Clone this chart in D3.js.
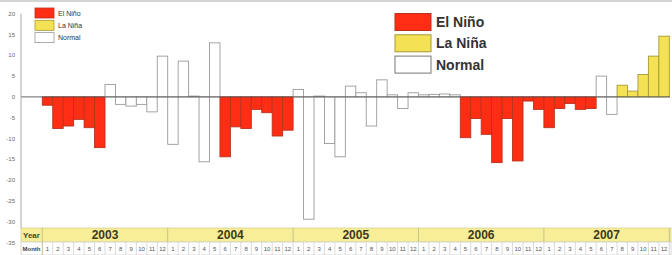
<!DOCTYPE html>
<html>
<head>
<meta charset="utf-8">
<script src="https://cdn.jsdelivr.net/npm/d3@7"></script>
<style>
  body { margin: 0; background: #fff; }
  svg { display: block; font-family: "Liberation Sans", Arial, sans-serif; }
</style>
</head>
<body>
<script>
// Data
const years = ['2003', '2004', '2005', '2006', '2007']
const months = ['1', '2', '3', '4', '5', '6', '7', '8', '9', '10', '11', '12']

// monthly values, one list per year
const values2003 = [-2.0, -7.6, -7.0, -5.4, -7.4, -12.2, 3.0, -1.8, -2.2, -1.8, -3.6, 9.8]
const values2004 = [-11.4, 8.6, 0.2, -15.6, 13.0, -14.4, -7.2, -7.6, -3.0, -3.8, -9.4, -8.0]
const values2005 = [1.8, -29.4, 0.2, -11.2, -14.4, 2.6, 1.0, -7.0, 4.1, 0.5, -2.8, 1.0]
const values2006 = [0.5, 0.6, 0.7, 0.5, -9.8, -5.2, -9.0, -15.8, -5.2, -15.4, -1.0, -3.0]
const values2007 = [-7.4, -2.8, -1.6, -3.0, -2.8, 5.0, -4.2, 2.8, 1.4, 5.4, 9.8, 14.6]

// phase per month: E = El Niño, L = La Niña, N = Normal
const phase2003 = ['E', 'E', 'E', 'E', 'E', 'E', 'N', 'N', 'N', 'N', 'N', 'N']
const phase2004 = ['N', 'N', 'N', 'N', 'N', 'E', 'E', 'E', 'E', 'E', 'E', 'E']
const phase2005 = ['N', 'N', 'N', 'N', 'N', 'N', 'N', 'N', 'N', 'N', 'N', 'N']
const phase2006 = ['N', 'N', 'N', 'N', 'E', 'E', 'E', 'E', 'E', 'E', 'E', 'E']
const phase2007 = ['E', 'E', 'E', 'E', 'E', 'N', 'N', 'L', 'L', 'L', 'L', 'L']

const legendKeys = ['E', 'L', 'N']
const legendLabels = ['El Niño', 'La Niña', 'Normal']
const yTicks = [20, 15, 10, 5, 0, -5, -10, -15, -20, -25, -30, -35]

// Styles
const fills = { E: '#ff2d14', L: '#f4e154', N: '#ffffff' }
const strokes = { E: '#b8321e', L: '#a39a3a', N: '#9a9a9a' }

const width = 672
const height = 255

function buildRows () {
  const allValues = [values2003, values2004, values2005, values2006, values2007]
  const allPhases = [phase2003, phase2004, phase2005, phase2006, phase2007]
  const rows = []
  years.forEach((yr, i) => {
    months.forEach((m, j) => {
      rows.push({ key: yr + '-' + m, year: yr, month: m, value: allValues[i][j], phase: allPhases[i][j] })
    })
  })
  return rows
}

function main () {
  const rows = buildRows()

  const svg = d3.select('body').append('svg')
    .attr('width', width)
    .attr('height', height)

  const x = d3.scaleBand()
    .domain(rows.map(d => d.key))
    .range([42.3, 669.3])
    .padding(0)

  const y = d3.scaleLinear()
    .domain([-35, 20])
    .range([242.5, 13.7])

  // top frame line
  svg.append('line')
    .attr('x1', 0).attr('x2', width)
    .attr('y1', 1).attr('y2', 1)
    .attr('stroke', '#d4d4d4').attr('stroke-width', 2)

  // y axis labels
  svg.append('g')
    .selectAll('text')
    .data(yTicks)
    .join('text')
    .attr('x', 15)
    .attr('y', d => y(d) + 2)
    .attr('text-anchor', 'end')
    .style('font-size', '6px')
    .style('fill', '#666')
    .text(d => d)

  // bars
  svg.append('g')
    .selectAll('rect')
    .data(rows)
    .join('rect')
    .attr('x', d => x(d.key))
    .attr('width', x.bandwidth())
    .attr('y', d => y(Math.max(0, d.value)))
    .attr('height', d => Math.abs(y(d.value) - y(0)))
    .attr('fill', d => fills[d.phase])
    .attr('stroke', d => strokes[d.phase])
    .attr('stroke-width', 0.9)

  // zero line and y axis line
  svg.append('line')
    .attr('x1', 21).attr('x2', 670)
    .attr('y1', y(0)).attr('y2', y(0))
    .attr('stroke', '#555').attr('stroke-width', 0.9)

  svg.append('line')
    .attr('x1', 21).attr('x2', 21)
    .attr('y1', y(20)).attr('y2', 228)
    .attr('stroke', '#aaa').attr('stroke-width', 1)

  // table below the chart
  const table = svg.append('g')
  const yearTop = 228
  const yearH = 14
  const monthTop = yearTop + yearH
  const monthH = 13

  table.append('rect')
    .attr('x', 21).attr('y', yearTop)
    .attr('width', 650).attr('height', yearH)
    .attr('fill', '#f8ee97')
    .attr('stroke', '#d6cf90').attr('stroke-width', 0.8)

  table.append('rect')
    .attr('x', 21).attr('y', monthTop)
    .attr('width', 650).attr('height', monthH)
    .attr('fill', '#fff')
    .attr('stroke', '#cfcfcf').attr('stroke-width', 0.8)

  table.append('line')
    .attr('x1', 42.3).attr('x2', 42.3)
    .attr('y1', yearTop).attr('y2', height)
    .attr('stroke', '#c9c28a')

  table.append('text')
    .attr('x', 23).attr('y', yearTop + 10)
    .style('font-size', '8px').style('font-weight', 'bold')
    .style('fill', '#4a4520')
    .text('Year')

  table.append('text')
    .attr('x', 22.5).attr('y', monthTop + 9)
    .style('font-size', '6px').style('font-weight', 'bold')
    .style('fill', '#444')
    .text('Month')

  // year cells
  table.selectAll('.year')
    .data(years)
    .join('g')
    .attr('class', 'year')
    .each(function (yr) {
      const g = d3.select(this)
      const x0 = x(yr + '-1')
      const x1 = x(yr + '-12') + x.bandwidth()
      g.append('line')
        .attr('x1', x1).attr('x2', x1)
        .attr('y1', yearTop).attr('y2', monthTop)
        .attr('stroke', '#c9c28a')
      g.append('text')
        .attr('x', (x0 + x1) / 2)
        .attr('y', yearTop + 11)
        .attr('text-anchor', 'middle')
        .style('font-size', '12px').style('font-weight', 'bold')
        .style('fill', '#3d3a1c')
        .text(yr)
    })

  // month cells
  const mcells = table.selectAll('.month')
    .data(rows)
    .join('g')
    .attr('class', 'month')

  mcells.append('line')
    .attr('x1', d => x(d.key) + x.bandwidth())
    .attr('x2', d => x(d.key) + x.bandwidth())
    .attr('y1', monthTop).attr('y2', height)
    .attr('stroke', '#d0d0d0').attr('stroke-width', 0.8)

  mcells.append('text')
    .attr('x', d => x(d.key) + x.bandwidth() / 2)
    .attr('y', monthTop + 9)
    .attr('text-anchor', 'middle')
    .style('font-size', '6px')
    .style('fill', '#555')
    .text(d => d.month)

  // small legend, top left
  const small = svg.append('g').attr('transform', 'translate(35,8)')
  legendKeys.forEach((k, i) => {
    small.append('rect')
      .attr('x', 0).attr('y', i * 12.3)
      .attr('width', 19).attr('height', 10)
      .attr('fill', fills[k]).attr('stroke', k === 'N' ? '#999' : strokes[k])
      .attr('stroke-width', 0.8)
    small.append('text')
      .attr('x', 23).attr('y', i * 12.3 + 7.5)
      .style('font-size', '7px')
      .style('fill', '#333')
      .text(legendLabels[i])
  })

  // large legend
  const big = svg.append('g').attr('transform', 'translate(395,13.5)')
  legendKeys.forEach((k, i) => {
    big.append('rect')
      .attr('x', 0).attr('y', i * 21.3)
      .attr('width', 36).attr('height', 17)
      .attr('fill', fills[k]).attr('stroke', k === 'N' ? '#777' : strokes[k])
      .attr('stroke-width', 1)
    big.append('text')
      .attr('x', 41).attr('y', i * 21.3 + 13.5)
      .style('font-size', '14px').style('font-weight', 'bold')
      .style('fill', '#333')
      .text(legendLabels[i])
  })
}

main()
</script>
</body>
</html>
